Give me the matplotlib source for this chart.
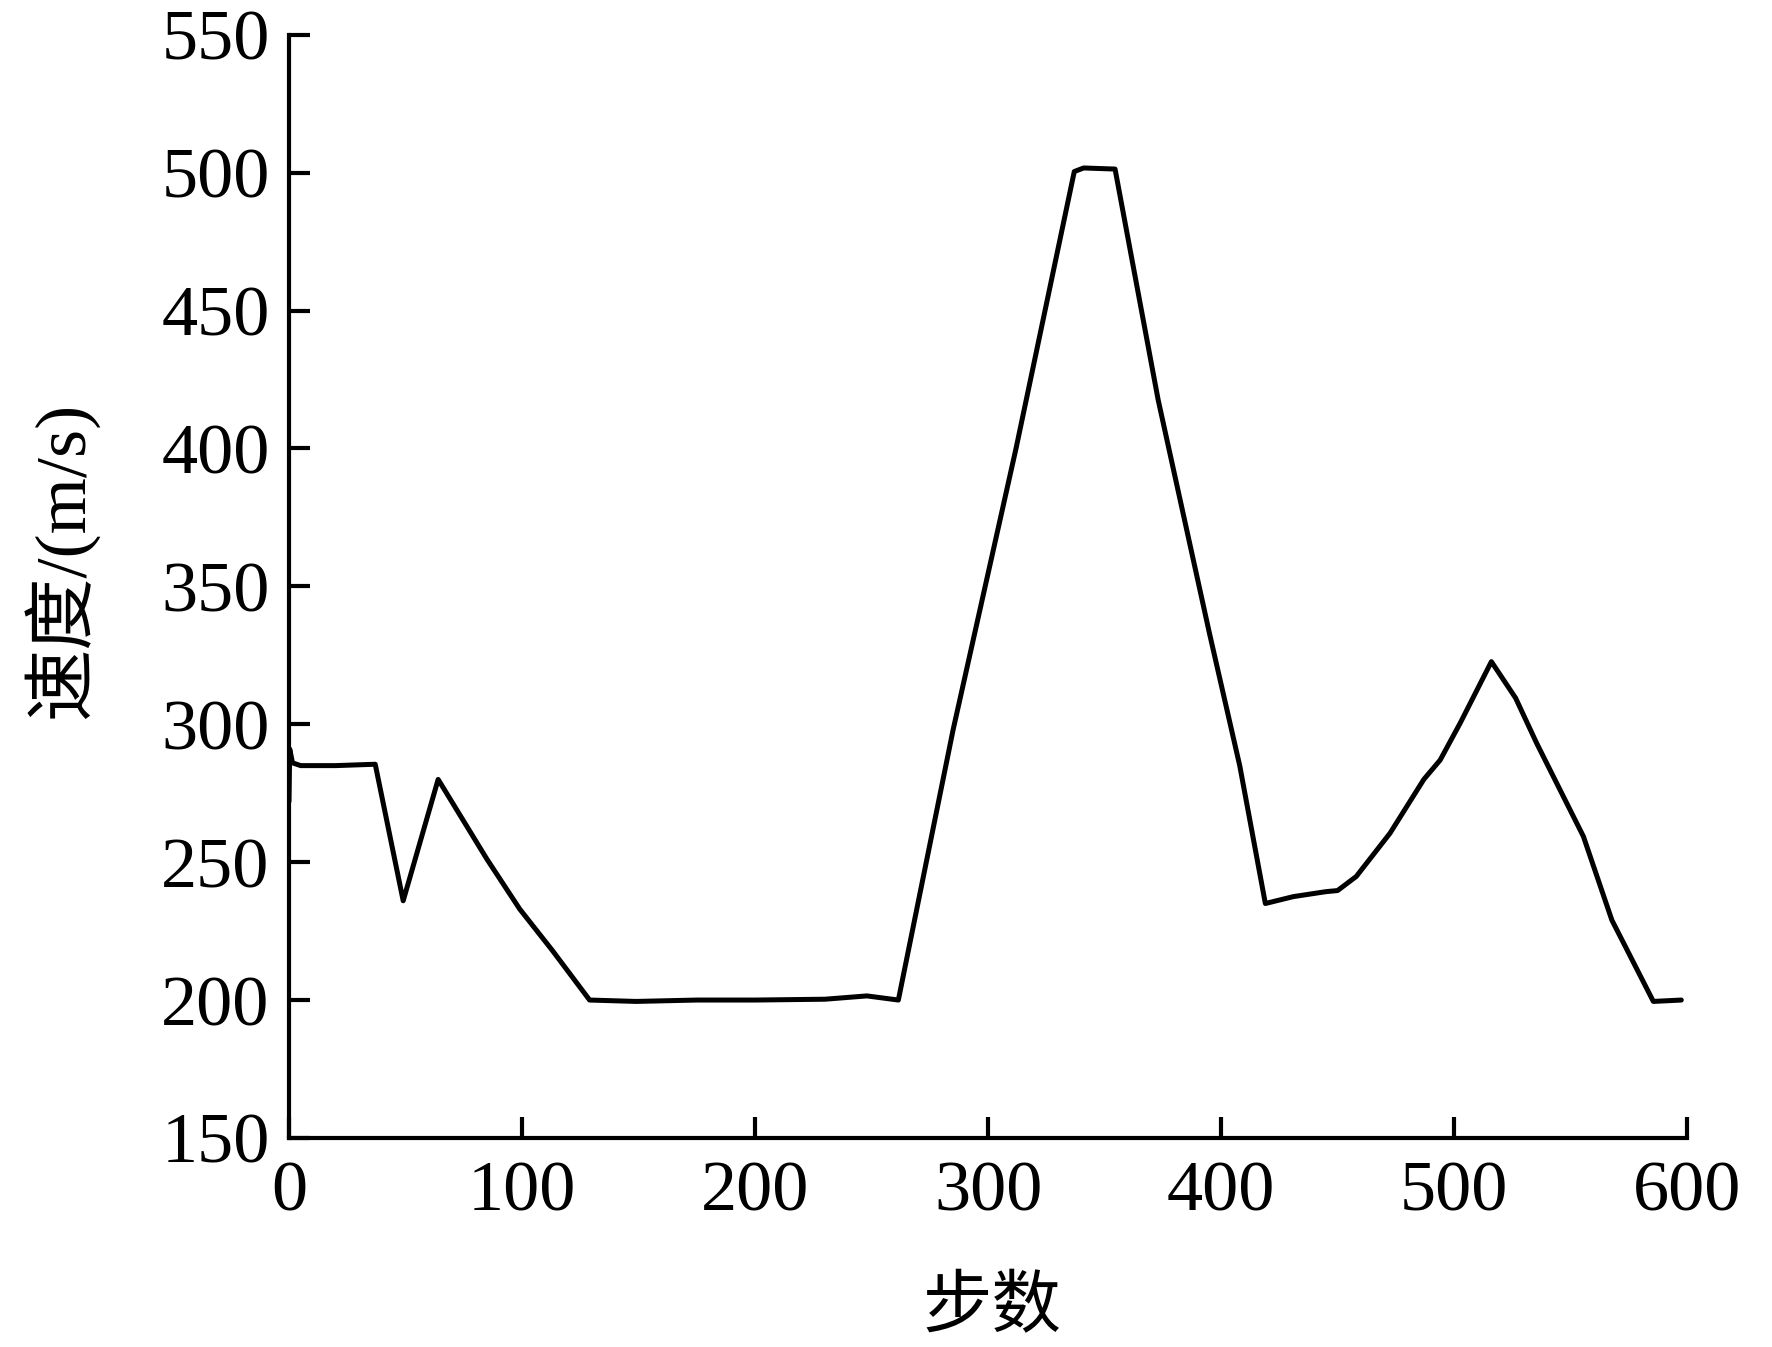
import matplotlib
matplotlib.use("Agg")
import matplotlib.pyplot as plt

# fonts: serif for numbers, CJK fallback for the Chinese labels
plt.rcParams['font.family'] = ['Liberation Serif', 'Noto Sans CJK SC']

# data
steps = [0, 0.3, 1.5, 5, 20, 37, 49, 64, 85, 99, 113, 129, 149, 175, 200,
         230, 248, 261.5, 285, 312, 337, 341, 354.5, 373, 395, 408, 419,
         431, 445, 450, 458, 472.5, 487, 494, 502.6, 516, 526.4, 535.5,
         555.5, 567.7, 585.5, 597.5]
speed = [272, 291, 286, 285, 285, 285.5, 236, 280, 251, 233, 218, 200, 199.5, 200, 200,
         200.3, 201.5, 200, 298, 400, 500.4, 501.7, 501.3, 417.6, 333, 285, 235,
         237.5, 239.3, 239.7, 244.8, 260.5, 280, 287, 300.4, 322.7, 309.5, 293,
         259.3, 229, 199.5, 200]

xticks = [0, 100, 200, 300, 400, 500, 600]
yticks = [150, 200, 250, 300, 350, 400, 450, 500, 550]

fig = plt.figure(figsize=(17.72, 13.47), dpi=100)
ax = fig.add_axes([0.1631, 0.1552, 0.789, 0.819])

ax.plot(steps, speed, color='black', linewidth=3.6,
        solid_joinstyle='round', solid_capstyle='round')

ax.set_xlim(0, 600)
ax.set_ylim(150, 550)
ax.set_xticks(xticks)
ax.set_yticks(yticks)

# only left and bottom spines, ticks pointing inward
ax.spines['top'].set_visible(False)
ax.spines['right'].set_visible(False)
for s in ['left', 'bottom']:
    ax.spines[s].set_linewidth(3)
ax.tick_params(direction='in', length=15, width=3, labelsize=52, pad=14)
ax.tick_params(axis='x', pad=16)

ax.set_xlabel('步数', fontsize=50)
ax.set_ylabel('速度/(m/s)', fontsize=52)
ax.xaxis.set_label_coords(0.503, -0.127)
ax.yaxis.set_label_coords(-0.136, 0.524)

fig.savefig('out.png', dpi=100)
